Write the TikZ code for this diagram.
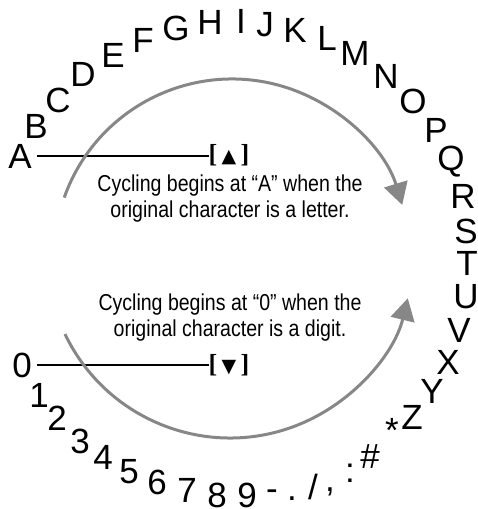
\documentclass[tikz,border=0pt]{standalone}
\usepackage{fontspec}
\setmainfont{Liberation Sans}
\newfontfamily\brfont{Liberation Serif}
\newfontfamily\symfont{DejaVu Sans}
\usepackage{xcolor}
\usepackage{tikz}
\usetikzlibrary{arrows.meta, positioning}

\definecolor{arcgray}{RGB}{135,135,135}

\begin{document}
\begin{tikzpicture}[x=1pt, y=1pt,
  glyph/.style={inner sep=0pt, font=\fontsize{35}{35}\selectfont},
  note/.style={align=center, inner sep=0pt, xscale=0.85, transform shape,
    font=\fontsize{23}{26}\selectfont},
  bracketmark/.style={inner sep=0pt, font=\brfont\bfseries\fontsize{26}{26}\selectfont},
  cyclearc/.style={draw=arcgray, line width=3pt,
    -{Triangle[length=22pt, width=24pt]}}]

  \useasboundingbox (0,0) rectangle (477,509);

  % letters round the top
  \node[glyph] (lA) at (20,353) {A};
  \foreach \ch/\px/\py [count=\i] in {B/36/383, C/58/409, D/83/435,
      E/113/454, F/143/469, G/176/481, H/210/487, I/241/488, J/265/484,
      K/295/479, L/327/471, M/355/456, N/386/433, O/413/408, P/436/379,
      Q/451/347, R/463/313, S/466/278, T/467/246, U/466/212, V/459/179,
      X/448/147, Y/432/118, Z/412/92, */392/79, {\#}/370/52, :/350/36,
      {,}/330/17, {/}/313/22, ./292/10, -/272/14}
    \node[glyph] (c\i) at (\px,\py) {\ch};

  % digits round the bottom
  \node[glyph] (d0) at (22,144) {0};
  \foreach \ch/\px/\py in {1/39/114, 2/57/91, 3/80/68, 4/103/52,
      5/129/37, 6/157/27, 7/187/19, 8/217/14, 9/247/14}
    \node[glyph] (d\ch) at (\px,\py) {\ch};

  \node[bracketmark] (up) at (229,354) {[\,{\symfont\mdseries\fontsize{19}{19}\selectfont ▲}\,]};
  \node[bracketmark] (down) at (229,144) {[\,{\symfont\mdseries\fontsize{19}{19}\selectfont ▼}\,]};

  \node[note] (letternote) at (230,310)
  {Cycling begins at “A” when the\\original character is a letter.};

  \node[note] (digitnote) at (230,191)
  {Cycling begins at “0” when the\\original character is a digit.};

  \draw[line width=1.5pt, shorten <=5pt] (lA.east) -- (lA.east -| up.west);
  \draw[line width=1.5pt, shorten <=5pt] (d0.east) -- (d0.east -| down.west);

  \draw[cyclearc] ([shift={(160.5:178)}]232,252) arc[start angle=160.5, end angle=17, radius=178];
  \draw[cyclearc] ([shift={(205.6:183)}]230,254) arc[start angle=205.6, end angle=346.3, radius=183];

\end{tikzpicture}
\end{document}
